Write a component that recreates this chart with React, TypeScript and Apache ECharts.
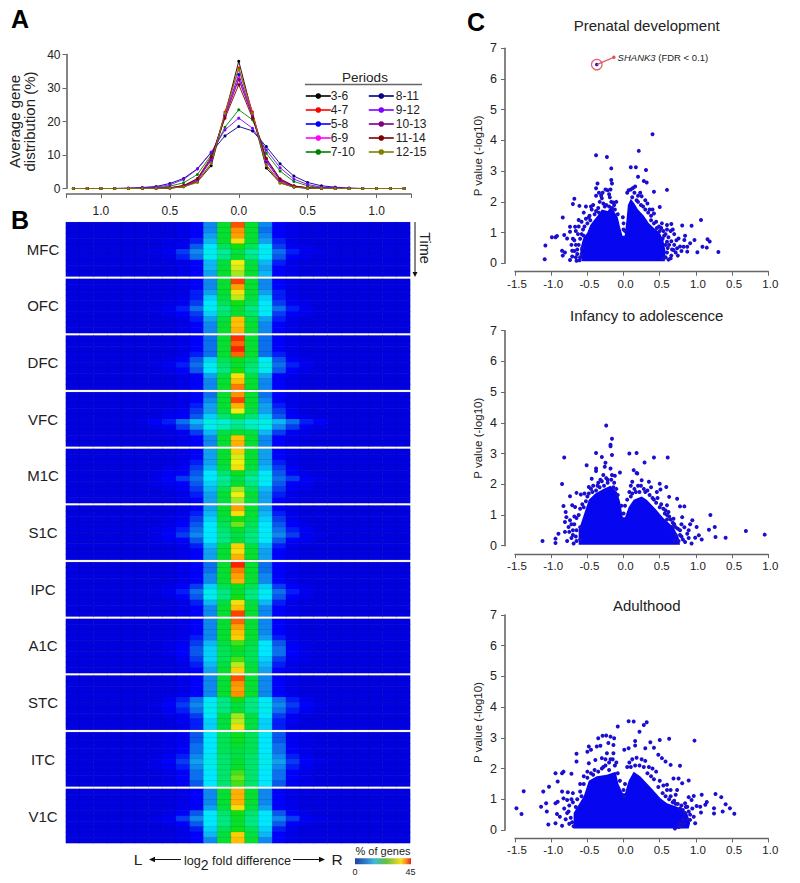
import React, { useEffect, useRef } from "react";
import * as echarts from "echarts";

const FONT = "Liberation Sans, Arial, sans-serif";
const INK = "#222222";
const AXIS = "#666666";

// Panel A
const foldBins = ["-1.2","-1.1","-1.0","-0.9","-0.8","-0.7","-0.6","-0.5","-0.4","-0.3","-0.2","-0.1","0.0","0.1","0.2","0.3","0.4","0.5","0.6","0.7","0.8","0.9","1.0","1.1","1.2"];
const foldValues = [-1.2,-1.1,-1.0,-0.9,-0.8,-0.7,-0.6,-0.5,-0.4,-0.3,-0.2,-0.1,0,0.1,0.2,0.3,0.4,0.5,0.6,0.7,0.8,0.9,1.0,1.1,1.2];
const periods = ["3-6","4-7","5-8","6-9","7-10","8-11","9-12","10-13","11-14","12-15"];
const periodColors = ["#000000","#ff0000","#0000ff","#ff00ff","#008000","#000080","#8000ff","#800080","#800000","#808000"];
const p3to6 =   [0,0,0,0,0,0,0.05,0.1,0.5,2,6.8,22,38,22,6.1,1.7,0.4,0.1,0.05,0,0,0,0,0,0];
const p4to7 =   [0,0,0,0,0,0,0.05,0.1,0.6,2.2,7.5,22.8,36,22.8,7,2,0.5,0.1,0.05,0,0,0,0,0,0];
const p5to8 =   [0,0,0,0,0,0,0.05,0.15,0.7,2.5,8.5,22,34,22,8,2.4,0.6,0.15,0.05,0,0,0,0,0,0];
const p6to9 =   [0,0,0,0,0,0,0.05,0.2,0.8,2.7,8.8,22,33,22,8.5,2.6,0.7,0.2,0.05,0,0,0,0,0,0];
const p7to10 =  [0,0,0,0,0,0.1,0.2,0.7,1.7,4.2,10,18.3,23.5,20.5,10.5,5.2,2.1,0.8,0.2,0.1,0,0,0,0,0];
const p8to11 =  [0,0,0,0,0.1,0.3,0.6,1.5,3,5.9,10.8,15.7,18.5,17.2,12.5,7.4,3.7,1.8,0.8,0.4,0.1,0,0,0,0];
const p9to12 =  [0,0,0,0,0.1,0.2,0.4,1.1,2.7,5.8,10.8,17.5,21,18,11.5,6.2,2.8,1.2,0.4,0.2,0.1,0,0,0,0];
const p10to13 = [0,0,0,0,0,0,0.05,0.2,0.8,2.8,9,21.5,32.5,21.5,8.8,2.7,0.7,0.2,0.05,0,0,0,0,0,0];
const p11to14 = [0,0,0,0,0,0,0.05,0.2,0.9,3,9.5,21,31,21,9,2.9,0.8,0.2,0.05,0,0,0,0,0,0];
const p12to15 = [0,0,0,0,0,0,0.05,0.1,0.5,1.8,7.5,22.5,35.5,22.5,6.8,1.6,0.4,0.1,0.05,0,0,0,0,0,0];
const periodSeries = [p3to6,p4to7,p5to8,p6to9,p7to10,p8to11,p9to12,p10to13,p11to14,p12to15];

// Panel B: rows are periods, columns are fold bins -0.7 .. 0.7; the outer bins read as 0
const tailZeros = [0,0,0,0,0];
const MFC = [
[0,0,0,1,3,8,22,39,22,8,3,1,0,0,0],[0,0,0,1,3,8,22,36,22,7,3,1,0,0,0],[0,0,0,1,3,9,22,35,22,8,3,1,0,0,0],[0,0,1,1,4,10,22,31,22,9,4,1,0,0,0],[0,0,1,2,6,12,20,24,20,12,5,2,1,0,0],
[0,1,2,5,8,13,17,21,17,13,7,4,2,1,0],[0,0,1,4,7,13,18,22,18,12,6,3,1,0,0],[0,0,0,1,3,10,21,30,21,10,4,1,0,0,0],[0,0,0,1,3,10,22,29,22,9,3,1,0,0,0],[0,0,0,1,3,9,22,27,22,10,3,1,0,0,0]];
const OFC = [
[0,0,0,1,3,8,22,40,22,8,3,1,0,0,0],[0,0,0,1,3,8,22,35,22,8,3,1,0,0,0],[0,0,0,1,4,9,22,31,22,9,4,1,0,0,0],[0,0,0,1,4,11,21,28,21,11,4,1,0,0,0],[0,0,1,2,5,12,20,24,20,12,5,2,1,0,0],
[0,1,2,4,7,13,18,22,18,13,7,4,2,0,0],[0,0,1,3,5,11,19,22,19,12,5,3,1,0,0],[0,0,0,1,4,9,21,33,21,9,4,1,0,0,0],[0,0,0,1,3,8,22,33,22,8,3,1,0,0,0],[0,0,0,1,3,8,22,34,22,8,3,1,0,0,0]];
const DFC = [
[0,0,0,1,3,7,22,41,22,7,3,1,0,0,0],[0,0,0,1,3,7,22,38,22,7,3,1,0,0,0],[0,0,0,1,3,7,22,42,22,7,3,1,0,0,0],[0,0,0,1,4,7,22,38,22,7,4,1,0,0,0],[0,0,1,3,6,11,20,23,20,12,6,3,1,0,0],
[0,1,2,4,7,13,19,22,19,14,7,4,2,0,0],[0,0,1,3,6,12,18,24,18,13,6,3,1,0,0],[0,0,0,1,3,9,21,31,21,9,3,1,0,0,0],[0,0,0,1,3,8,22,33,22,8,3,1,0,0,0],[0,0,0,1,3,8,22,37,22,8,3,1,0,0,0]];
const VFC = [
[0,0,0,1,3,7,22,36,22,7,3,1,0,0,0],[0,0,0,1,3,8,22,40,22,8,3,1,0,0,0],[0,0,0,1,4,9,22,34,22,9,4,1,0,0,0],[0,0,1,2,5,9,21,30,21,9,5,2,0,0,0],[0,0,2,3,6,11,19,22,19,11,6,3,1,0,0],
[1,3,4,7,10,14,15,17,15,14,10,7,4,3,0],[0,1,2,5,8,13,16,18,16,13,8,5,2,1,0],[0,0,1,2,5,10,21,22,21,10,5,2,1,0,0],[0,0,0,1,3,8,22,33,22,8,3,1,0,0,0],[0,0,0,1,3,8,22,34,22,8,3,1,0,0,0]];
const M1C = [
[0,0,0,1,3,9,22,32,22,9,3,1,0,0,0],[0,0,0,1,3,9,22,29,22,9,3,1,0,0,0],[0,0,0,1,4,9,22,30,22,9,4,1,0,0,0],[0,0,1,2,5,10,21,31,21,10,5,2,0,0,0],[0,1,2,3,6,12,19,23,19,12,6,3,1,0,0],
[0,1,3,5,7,12,17,21,17,13,7,5,2,1,0],[0,1,2,3,6,11,18,22,18,12,6,3,2,0,0],[0,0,1,2,5,10,20,27,20,10,5,2,1,0,0],[0,0,0,1,4,9,22,30,22,9,4,1,0,0,0],[0,0,0,1,3,9,21,27,21,9,3,1,0,0,0]];
const S1C = [
[0,0,0,1,3,9,22,35,22,9,3,1,0,0,0],[0,0,0,1,4,10,22,31,22,10,4,1,0,0,0],[0,0,1,2,5,11,21,24,21,11,5,2,0,0,0],[0,0,1,3,6,12,20,26,20,12,6,3,1,0,0],[0,1,2,4,7,12,19,22,19,12,7,4,2,0,0],
[0,1,3,5,8,12,18,21,18,13,8,5,2,1,0],[0,1,2,3,6,12,18,21,18,12,6,3,2,0,0],[0,0,0,1,4,10,21,32,21,10,4,1,0,0,0],[0,0,0,1,3,9,22,31,22,9,3,1,0,0,0],[0,0,0,1,3,9,22,34,22,9,3,1,0,0,0]];
const IPC = [
[0,0,0,1,3,7,22,42,22,7,3,1,0,0,0],[0,0,0,1,3,7,22,37,22,7,3,1,0,0,0],[0,0,0,1,3,8,22,35,22,8,3,1,0,0,0],[0,0,0,1,3,8,22,34,22,8,3,1,0,0,0],[0,0,1,3,5,11,20,23,20,11,5,3,1,0,0],
[0,1,2,4,7,13,18,22,18,13,7,4,2,0,0],[0,0,1,3,6,13,18,24,18,12,6,3,1,0,0],[0,0,0,1,4,10,21,31,21,10,4,1,0,0,0],[0,0,0,1,3,8,22,33,22,8,3,1,0,0,0],[0,0,0,1,3,8,22,40,22,8,3,1,0,0,0]];
const A1C = [
[0,0,0,1,3,8,22,38,22,8,3,1,0,0,0],[0,0,0,1,3,8,22,35,22,8,3,1,0,0,0],[0,0,0,1,3,8,22,33,22,8,3,1,0,0,0],[0,0,0,1,4,8,22,32,22,9,4,1,0,0,0],[0,0,1,2,5,10,21,25,21,12,6,2,1,0,0],
[0,0,1,3,6,11,20,23,20,12,7,3,1,0,0],[0,0,1,3,6,11,20,22,20,12,7,3,1,0,0],[0,0,0,2,5,11,20,25,20,11,5,2,1,0,0],[0,0,0,1,4,10,21,28,21,10,4,1,0,0,0],[0,0,0,1,3,9,22,32,22,9,3,1,0,0,0]];
const STC = [
[0,0,0,1,3,8,22,39,22,8,3,1,0,0,0],[0,0,0,1,3,8,22,36,22,8,3,1,0,0,0],[0,0,0,1,3,8,22,35,22,8,3,1,0,0,0],[0,0,0,1,3,8,22,36,22,8,3,1,0,0,0],[0,0,2,4,7,12,18,24,18,12,7,4,2,0,0],
[0,1,3,5,8,13,18,21,18,13,8,5,3,1,0],[0,0,2,4,7,13,18,22,18,13,7,4,2,0,0],[0,0,1,2,5,12,21,27,21,12,5,2,1,0,0],[0,0,0,2,4,11,21,28,21,11,4,2,0,0,0],[0,0,0,1,4,11,21,31,21,11,4,1,0,0,0]];
const ITC = [
[0,0,1,2,6,12,20,23,20,12,6,2,1,0,0],[0,0,1,2,6,12,20,23,20,12,6,2,1,0,0],[0,0,1,2,7,12,20,22,20,12,7,2,1,0,0],[0,0,1,3,7,12,20,21,20,12,7,3,1,0,0],[0,1,2,4,8,13,19,21,19,13,8,4,2,0,0],
[0,1,3,5,9,13,19,22,19,13,9,5,3,1,0],[0,1,2,4,8,13,19,22,19,13,8,4,2,0,0],[0,0,1,3,7,12,19,25,19,12,7,3,1,0,0],[0,0,1,3,7,12,19,26,19,12,7,3,1,0,0],[0,0,1,2,6,12,19,25,19,12,6,2,1,0,0]];
const V1C = [
[0,0,0,1,3,8,22,34,22,8,3,1,0,0,0],[0,0,0,1,3,8,22,34,22,8,3,1,0,0,0],[0,0,0,1,3,8,22,34,22,8,3,1,0,0,0],[0,0,0,1,3,9,21,31,21,9,3,1,0,0,0],[0,0,1,3,6,12,19,24,19,12,6,3,1,0,0],
[0,1,2,5,8,12,18,23,18,12,8,5,2,1,0],[0,0,1,3,6,12,18,22,18,12,6,3,1,0,0],[0,0,0,1,4,11,20,24,20,11,4,1,0,0,0],[0,0,0,1,3,10,21,32,21,10,3,1,0,0,0],[0,0,0,1,3,8,22,33,22,8,3,1,0,0,0]];
const regionNames = ["MFC","OFC","DFC","VFC","M1C","S1C","IPC","A1C","STC","ITC","V1C"];
const regionGrids = [MFC,OFC,DFC,VFC,M1C,S1C,IPC,A1C,STC,ITC,V1C];
const heatColors = ["#0000e0","#0000ff","#0858f0","#10a0f0","#00e8ff","#00f0d0","#00e880","#00e040","#10e010","#a0e820","#f0f010","#ffc000","#ff9000","#ff5000","#ff2000","#e00000"];

// Panel C
const volcanoTitles = ["Prenatal development","Infancy to adolescence","Adulthood"];
const volcanoTickLabels = ["-1.5","-1.0","-0.5","0.0","0.5","1.0","0.5","1.0"];
const prenatalCore = [[-0.58,0.07],[-0.6,0.45],[-0.56,0.8],[-0.5,1.0],[-0.46,1.25],[-0.41,1.4],[-0.36,1.55],[-0.3,1.75],[-0.22,1.7],[-0.17,1.85],[-0.12,1.65],[-0.08,1.5],[-0.05,1.2],[-0.015,0.9],[0.015,0.9],[0.04,1.4],[0.06,1.9],[0.1,2.1],[0.15,1.95],[0.2,1.75],[0.28,1.55],[0.35,1.3],[0.42,1.15],[0.5,1.0],[0.55,0.75],[0.58,0.4],[0.57,0.07]];
const prenatalPoints = [[0.40,4.2],[0.21,3.66],[-0.38,3.52],[-0.23,3.46],[-0.17,3.09],[0.10,3.13],[0.17,3.13],[0.31,3.04],[0.2,2.82],[-0.17,2.71],[-0.16,2.6],[-0.36,2.6],[0.28,2.68],[0.32,2.63],[-0.38,2.44],[0.6,2.39],[0.42,2.33],[-0.68,2.1],[-0.7,1.93],[-0.61,1.87],[-0.84,1.49],[1.07,1.41],[0.94,1.22],[0.81,1.23],[0.66,1.28],[-0.62,1.41],[-0.67,1.19],[-0.74,1.19],[-0.74,1.03],[-0.82,0.92],[-0.78,0.81],[-0.99,0.85],[-0.94,0.85],[-0.92,0.89],[-1.08,0.58],[-1.09,0.13],[-0.85,0.41],[-0.84,0.25],[-0.81,0.35],[-0.71,0.41],[-0.71,0.22],[-0.65,0.08],[-0.74,0.11],[0.98,0.76],[0.84,0.76],[0.76,0.81],[1.09,0.54],[1.16,0.78],[1.19,0.71],[1.15,0.51],[1.31,0.37],[1.02,0.36],[0.88,0.38],[0.83,0.54],[0.88,0.54],[0.74,0.49],[0.69,0.43],[0.75,0.25],[0.65,0.16],
[-0.45,1.85],[-0.44,1.75],[-0.42,1.9],[-0.38,2.2],[-0.33,2.0],[-0.31,2.2],[-0.3,2.12],[-0.25,2.4],[-0.22,2.38],[-0.2,2.25],[-0.19,2.15],[-0.17,2.0],[-0.14,1.98],[-0.13,1.9],[-0.1,2.0],[-0.12,1.75],[-0.08,1.6],[-0.28,1.95],[-0.26,1.85],[-0.35,1.8],[-0.4,1.6],[-0.48,1.5],[-0.5,1.3],[-0.54,1.2],[-0.56,1.1],[-0.58,0.95],[-0.6,0.8],[-0.62,0.6],[-0.64,0.45],[-0.58,0.3],[-0.6,0.2],[-0.57,0.5],[0.05,2.3],[0.07,2.38],[0.1,2.4],[0.13,2.45],[0.16,2.5],[0.15,2.3],[0.2,2.2],[0.23,2.3],[0.25,2.18],[0.3,2.05],[0.33,1.95],[0.18,2.05],[0.12,2.15],[0.27,1.85],[0.36,1.75],[0.4,1.75],[0.42,1.62],[0.38,1.55],[0.5,1.83],[0.45,1.35],[0.52,1.15],[0.55,1.05],[0.6,1.1],[0.58,0.95],[0.62,0.85],[0.6,0.7],[0.65,1.05],[0.7,0.95],[0.63,0.6],[0.67,0.45],[0.6,0.35],[0.58,0.2],[0.55,0.15],[0.56,0.9],[0.49,1.2],[0.02,1.05],[0,1.1],[0,1.3],[-0.01,1.5],
[-0.55,1.65],[-0.52,1.85],[-0.47,1.55],[-0.46,1.4],[-0.52,1.45],[-0.58,1.35],[-0.62,1.2],[-0.66,1.05],[-0.63,0.95],[-0.68,0.75],[-0.72,0.6],[-0.66,0.6],[-0.7,0.8],[-0.64,0.3],[-0.66,0.2],[-0.68,0.4],[-0.61,0.1],[-0.55,0.9],[-0.38,1.7],[-0.34,1.65],[-0.24,1.9],[-0.2,1.85],[-0.16,1.8],[-0.34,2.3],[-0.29,2.3],[-0.18,2.4],[0.2,2.0],[0.24,1.9],[0.3,1.75],[0.34,1.65],[0.38,1.4],[0.42,1.3],[0.46,1.15],[0.5,1.05],[0.54,0.8],[0.58,0.6],[0.61,0.5],[0.66,0.72],[0.7,0.6],[0.72,0.35],[0.66,0.25],[0.62,0.12],[0.6,1.25],[0.53,1.3],[0.68,1.1],[0.73,0.75],[0.78,0.55],[0.8,0.4],[0.85,0.9],[0.92,0.65]];
const shank3Point = [[-0.37,6.47]];
const shank3Leader = [[-0.37,6.47],[-0.134,6.71]];
const infancyCore = [[-0.62,0.03],[-0.62,0.5],[-0.55,1.0],[-0.48,1.5],[-0.39,1.7],[-0.28,1.85],[-0.18,1.95],[-0.09,1.75],[-0.05,1.45],[-0.01,0.93],[0.02,0.93],[0.07,1.25],[0.14,1.5],[0.25,1.6],[0.32,1.5],[0.44,1.2],[0.55,0.9],[0.69,0.6],[0.76,0.28],[0.78,0.03]];
const infancyPoints = [[-0.24,3.91],[-0.16,3.48],[-0.18,3.29],[-0.18,3.24],[-0.16,2.95],[-0.38,3.02],[-0.3,2.89],[-0.82,2.87],[0.08,3.0],[0.18,3.02],[0.42,2.87],[0.61,2.87],[0.29,2.71],[-0.51,2.62],[-0.85,2.01],[-0.25,2.7],[-0.26,2.57],[-0.18,2.51],[-0.38,2.51],[-0.38,2.43],[-0.05,2.38],[0.14,2.46],[0.18,2.37],[0.19,2.35],[-0.28,2.3],[-0.16,2.3],[-0.12,2.28],[-0.48,1.91],[-0.44,2.18],[-0.65,1.72],[-0.59,1.67],[-0.54,1.7],[-0.74,1.61],[-0.83,1.29],[-0.71,1.32],[-0.67,1.26],[-0.8,1.1],[-0.79,0.93],[-0.74,0.83],[-0.81,0.77],[-0.76,0.61],[-0.81,0.45],[-0.9,0.39],[-0.94,0.23],[-1.12,0.15],[-0.94,0.09],[-0.78,0.15],[-0.69,0.07],[0.12,2.08],[0.25,2.13],[0.35,2.08],[0.5,2.02],[0.59,1.91],[0.51,1.83],[0.46,1.75],[0.74,1.53],[0.63,1.59],[0.6,1.32],[0.78,1.28],[0.84,1.28],[1.2,1.0],[0.81,0.93],[0.95,0.83],[0.92,0.7],[1.01,0.61],[1.26,0.61],[1.18,0.52],[1.69,0.48],[1.95,0.36],[1.27,0.28],[1.41,0.26],[1.08,0.2],[1.04,0.34],[0.99,0.26],[0.88,0.39],[0.78,0.5],[0.69,0.88],[0.67,0.61],[0.85,0.12],[0.94,0.07],
[-0.5,1.6],[-0.45,1.85],[-0.42,1.95],[-0.35,2.05],[-0.3,2.1],[-0.22,2.15],[-0.13,2.05],[-0.1,1.85],[-0.08,1.65],[0,1.05],[-0.03,1.3],[0.02,1.3],[0.08,1.75],[0.1,1.95],[0.15,1.85],[0.2,1.95],[0.28,1.85],[0.33,1.8],[0.4,1.55],[0.45,1.4],[0.5,1.25],[0.55,1.2],[0.6,1.0],[0.65,0.85],[0.7,0.7],[0.75,0.55],[0.72,0.35],[0.8,0.3],[0.7,0.15],[0.62,1.1],[-0.65,0.9],[-0.68,0.7],[-0.7,0.5],[-0.66,0.3],[-0.72,0.25],[-0.6,1.2],[-0.57,1.35],
[-0.6,0.6],[-0.65,0.5],[-0.68,0.95],[-0.72,0.7],[-0.75,0.45],[-0.7,0.35],[-0.62,1.0],[-0.55,1.25],[-0.52,1.45],[-0.48,1.7],[-0.43,1.75],[-0.38,1.8],[-0.36,1.95],[-0.33,1.9],[-0.27,1.95],[-0.22,2.05],[-0.17,2.15],[-0.14,1.9],[-0.24,2.2],[-0.32,2.15],[-0.6,0.2],[-0.65,0.15],[0.1,1.6],[0.12,1.7],[0.17,1.75],[0.22,1.75],[0.24,1.95],[0.3,1.75],[0.36,1.65],[0.42,1.5],[0.47,1.55],[0.52,1.35],[0.57,1.05],[0.6,0.85],[0.63,0.95],[0.68,0.75],[0.72,0.6],[0.78,0.35],[0.76,0.15],[0.8,0.7],[0.84,0.6],[0.9,0.5],[0.82,0.2],[0.9,0.25],[0.58,1.15],[0.38,1.9],[0.05,1.5]];
const adultCore = [[-0.69,0.05],[-0.69,0.55],[-0.55,1.1],[-0.48,1.6],[-0.37,1.75],[-0.23,1.8],[-0.11,1.9],[-0.07,1.5],[-0.01,1.2],[0.02,1.2],[0.07,1.6],[0.14,1.9],[0.23,1.75],[0.37,1.4],[0.51,1.03],[0.6,0.87],[0.74,0.76],[0.88,0.55],[0.92,0.22],[0.9,0.05]];
const adultPoints = [[-1.48,0.71],[-1.41,0.52],[-1.38,1.26],[-1.11,1.25],[-1.03,1.41],[-1.14,0.76],[-1.07,0.87],[-1.06,0.6],[-1.04,0.18],[-0.94,0.22],[-0.92,0.52],[-0.88,0.43],[-0.85,0.14],[-0.94,1.85],[-0.91,1.58],[-0.85,1.85],[-0.83,1.9],[-0.72,1.83],[-0.94,0.87],[-0.91,0.92],[-0.85,1.25],[-0.77,1.23],[-0.83,1.03],[-0.78,0.98],[-0.65,2.48],[-0.65,2.23],[-0.48,2.72],[-0.45,2.61],[-0.5,2.55],[-0.37,2.72],[-0.32,2.74],[-0.35,2.99],[-0.29,3.07],[-0.24,3.08],[-0.18,3.04],[-0.13,2.99],[-0.08,3.37],[0.07,3.54],[0.14,3.53],[0.28,3.42],[0.32,3.51],[0.22,3.2],[0.5,2.93],[0.63,2.97],[0.98,2.91],[0.37,2.86],[0.16,2.9],[0.01,2.61],[0.07,2.66],[0.3,2.66],[0.42,2.68],[0.16,2.75],[-0.21,2.83],[-0.14,2.77],[-0.23,2.5],[-0.14,2.5],[-0.39,2.28],[-0.48,2.17],[-0.3,2.34],[0.48,2.45],[0.53,2.34],[0.58,2.23],[0.65,2.12],[0.78,2.09],[0.9,1.61],[0.69,1.68],[0.76,1.68],[0.81,1.52],[0.6,1.47],[0.74,1.3],[0.9,1.07],[0.97,1.11],[1.08,1.15],[1.27,1.17],[1.35,1.07],[1.41,0.84],[1.47,0.71],[1.53,0.53],[1.37,0.6],[1.25,0.71],[1.25,0.54],[1.15,0.91],[1.13,0.82],[1.06,0.76],[1.01,0.78],[1.07,0.57],[0.99,0.22],[0.92,0.33],[0.88,0.76],[0.71,0.05],[0.94,0.98],[0.97,0.43],[0.85,0.87],
[-0.6,1.5],[-0.55,1.75],[-0.5,1.9],[-0.45,1.85],[-0.4,1.95],[-0.3,2.0],[-0.25,2.1],[-0.2,2.2],[-0.15,2.3],[-0.12,2.1],[-0.08,1.85],[-0.05,1.6],[0,1.3],[0.01,1.1],[0.02,1.5],[0.05,2.05],[0.08,2.2],[0.12,2.3],[0.18,2.35],[0.25,2.3],[0.3,2.25],[0.35,2.05],[0.4,2],[0.45,1.9],[0.5,1.6],[0.55,1.45],[0.6,1.3],[0.65,1.1],[0.7,0.95],[0.75,0.85],[0.8,0.8],[0.85,0.55],[0.82,0.35],[0.78,0.2],[-0.7,1.2],[-0.72,1.0],[-0.75,0.8],[-0.76,0.6],[-0.73,0.4],[-0.71,0.25],[-0.69,0.12],
[-0.78,0.55],[-0.82,0.7],[-0.8,0.35],[-0.75,0.2],[-0.66,0.75],[-0.64,1.0],[-0.7,0.9],[-0.6,1.25],[-0.58,1.1],[-0.55,1.5],[-0.5,1.7],[-0.42,1.8],[-0.35,1.9],[-0.28,2.05],[-0.2,1.95],[-0.18,2.3],[-0.1,2.2],[-0.25,2.3],[0.1,2.05],[0.16,2.1],[0.22,2.1],[0.28,2.05],[0.33,1.85],[0.38,1.75],[0.42,1.65],[0.48,1.4],[0.54,1.2],[0.58,1.1],[0.63,1.0],[0.68,0.9],[0.72,0.85],[0.78,0.7],[0.82,0.65],[0.86,0.75],[0.9,0.6],[0.88,0.35],[0.84,0.2],[0.8,0.12],[0.76,0.1],[0.92,0.5],[0.95,0.7],[0.65,1.3],[0.72,1.15]];
const volcanoCores = [prenatalCore, infancyCore, adultCore];
const volcanoPoints = [prenatalPoints, infancyPoints, adultPoints];

function buildOption() {
  const grid: any[] = [{ left: 66.5, width: 344.5, top: 54.5, height: 134 }];
  const xAxis: any[] = [{
    type: "value", gridIndex: 0, min: -1.25, max: 1.25, offset: 5.5,
    axisLine: { show: true, onZero: false, lineStyle: { color: AXIS, width: 1.6 } },
    axisTick: { show: true, length: 4, lineStyle: { color: AXIS, width: 1 }, customValues: [-1.25,-1,-0.5,0,0.5,1,1.25] },
    axisLabel: { color: INK, fontSize: 12, fontFamily: FONT, margin: 10.5, customValues: [-1,-0.5,0,0.5,1], formatter: (v: number) => Math.abs(v).toFixed(1) },
    splitLine: { show: false },
  }];
  const yAxis: any[] = [{
    type: "value", gridIndex: 0, min: 0, max: 40, interval: 10,
    axisLine: { show: true, onZero: false, lineStyle: { color: AXIS, width: 1.6 } },
    axisTick: { show: true, length: 4, lineStyle: { color: AXIS, width: 1 } },
    axisLabel: { color: INK, fontSize: 12, fontFamily: FONT, margin: 6 },
    splitLine: { show: false },
    name: "Average gene\ndistribution (%)", nameLocation: "middle", nameGap: 30,
    nameTextStyle: { color: INK, fontSize: 15, fontFamily: FONT, lineHeight: 15 },
  }];
  const series: any[] = periods.map((name, i) => ({
    name, type: "line", xAxisIndex: 0, yAxisIndex: 0,
    data: periodSeries[i].map((v, j) => [foldValues[j], v]),
    symbol: "circle", symbolSize: 3, showSymbol: true,
    lineStyle: { color: periodColors[i], width: 0.9 }, itemStyle: { color: periodColors[i] },
  }));

  regionNames.forEach((name, r) => {
    const gi = grid.length;
    grid.push({ left: 66, width: 344, top: 222.3 + 56.67 * r, height: 54 });
    xAxis.push({ type: "category", gridIndex: gi, data: foldBins, show: false });
    yAxis.push({
      type: "category", gridIndex: gi, data: periods, inverse: true,
      axisLine: { show: false }, axisTick: { show: false }, axisLabel: { show: false },
      name, nameLocation: "middle", nameRotate: 0, nameGap: 23,
      nameTextStyle: { color: INK, fontSize: 15, fontFamily: FONT, align: "center", verticalAlign: "middle" },
    });
    const cells: number[][] = [];
    regionGrids[r].forEach((row, y) => {
      [...tailZeros, ...row, ...tailZeros].forEach((v, x) => cells.push([x, y, v]));
    });
    series.push({
      type: "heatmap", xAxisIndex: gi, yAxisIndex: gi, data: cells,
      itemStyle: { borderColor: "rgba(0,0,40,0.18)", borderWidth: 0.5 },
    });
  });
  const heatIndexes = regionNames.map((_, r) => periods.length + r);

  const volcanoTops = [48.3, 330.7, 615];
  volcanoTitles.forEach((_, v) => {
    const gi = grid.length;
    grid.push({ left: 515, width: 253.3, top: volcanoTops[v], height: 215 });
    xAxis.push({
      type: "value", gridIndex: gi, min: -1.5, max: 2, interval: 0.5, offset: 8.4,
      axisLine: { show: true, onZero: false, lineStyle: { color: AXIS, width: 1.3 } },
      axisTick: { show: true, length: 4, lineStyle: { color: AXIS, width: 1 } },
      axisLabel: { color: INK, fontSize: 11.5, fontFamily: FONT, margin: 6, padding: [0, 0, 0, 4], showMinLabel: true, showMaxLabel: true, formatter: (_v: number, idx: number) => volcanoTickLabels[idx] },
      splitLine: { show: false },
    });
    yAxis.push({
      type: "value", gridIndex: gi, min: 0, max: 7, interval: 1, offset: 10,
      axisLine: { show: true, onZero: false, lineStyle: { color: AXIS, width: 1.6 } },
      axisTick: { show: true, length: 4, lineStyle: { color: AXIS, width: 1 } },
      axisLabel: { color: INK, fontSize: 12.5, fontFamily: FONT, margin: 8 },
      splitLine: { show: false },
      name: "P value (-log10)", nameLocation: "middle", nameGap: 21,
      nameTextStyle: { color: INK, fontSize: 11.5, fontFamily: FONT },
    });
    const core = volcanoCores[v];
    series.push({
      type: "custom", xAxisIndex: gi, yAxisIndex: gi, data: core, coordinateSystem: "cartesian2d",
      encode: { x: 0, y: 1 },
      renderItem: (params: any, api: any) => {
        if (params.dataIndex !== 0) return null;
        return { type: "polygon", shape: { points: core.map((p) => api.coord(p)) }, style: { fill: "#0606f0" } };
      },
    });
    series.push({
      type: "scatter", xAxisIndex: gi, yAxisIndex: gi, data: volcanoPoints[v],
      symbolSize: 4, itemStyle: { color: "#1a0ed0", opacity: 1 },
    });
    if (v === 0) {
      series.push({
        type: "line", xAxisIndex: gi, yAxisIndex: gi, data: shank3Leader, symbol: "none",
        lineStyle: { color: "#e0505a", width: 1.2 },
      });
      series.push({
        type: "scatter", xAxisIndex: gi, yAxisIndex: gi, data: [shank3Leader[1]], symbolSize: 3.5,
        itemStyle: { color: "#e0505a", opacity: 1 },
        label: {
          show: true, position: "right", distance: 2, fontFamily: FONT, fontSize: 9.5, color: INK,
          formatter: "{i|SHANK3} (FDR < 0.1)", rich: { i: { fontStyle: "italic", fontSize: 9.5, fontFamily: FONT, color: INK } },
        },
      });
      series.push({
        type: "scatter", xAxisIndex: gi, yAxisIndex: gi, data: shank3Point, symbolSize: 10.5,
        itemStyle: { color: "rgba(255,255,255,0)", borderColor: "#e0606a", borderWidth: 1.2, opacity: 1 },
      });
      series.push({
        type: "scatter", xAxisIndex: gi, yAxisIndex: gi, data: shank3Point, symbolSize: 3.5,
        itemStyle: { color: "#1a0ed0", opacity: 1 },
      });
    }
  });

  const letter = (text: string, x: number, y: number) => ({
    type: "text", x, y, style: { text, fill: "#000", font: `bold 25px ${FONT}` },
  });
  const arrowHead = (pts: number[][]) => ({ type: "polygon", shape: { points: pts }, style: { fill: "#111" } });
  const graphic: any[] = [
    letter("A", 11, 6), letter("B", 11, 207), letter("C", 467, 9),
    { type: "text", x: 365, y: 70, style: { text: "Periods", fill: INK, font: `13.5px ${FONT}`, textAlign: "center" } },
    { type: "line", shape: { x1: 305, y1: 84.5, x2: 422, y2: 84.5 }, style: { stroke: AXIS, lineWidth: 1.4 } },
    { type: "line", shape: { x1: 415, y1: 222, x2: 415, y2: 273 }, style: { stroke: "#111", lineWidth: 1 } },
    arrowHead([[412.5, 272], [417.5, 272], [415, 277]]),
    { type: "text", x: 425, y: 248, rotation: -Math.PI / 2, style: { text: "Time", fill: INK, font: `14.5px ${FONT}`, textAlign: "center", textVerticalAlign: "middle" }, originX: 0, originY: 0 },
    { type: "text", x: 138, y: 859.5, style: { text: "L", fill: INK, font: `15.5px ${FONT}`, textAlign: "center", textVerticalAlign: "middle" } },
    { type: "line", shape: { x1: 152, y1: 859.5, x2: 181, y2: 859.5 }, style: { stroke: "#111", lineWidth: 1 } },
    arrowHead([[149, 859.5], [155, 856.7], [155, 862.3]]),
    {
      type: "text", x: 184, y: 850,
      style: {
        text: "{a|log}{b|2}{a| fold difference}", fill: INK, font: `13px ${FONT}`,
        rich: {
          a: { fontSize: 12.6, fontFamily: FONT, fill: INK, color: INK },
          b: { fontSize: 14, fontFamily: FONT, fill: INK, color: INK, padding: [8, 0, 0, 0] },
        },
      },
    },
    { type: "line", shape: { x1: 293, y1: 859.5, x2: 322, y2: 859.5 }, style: { stroke: "#111", lineWidth: 1 } },
    arrowHead([[325, 859.5], [319, 856.7], [319, 862.3]]),
    { type: "text", x: 337, y: 859.5, style: { text: "R", fill: INK, font: `15.5px ${FONT}`, textAlign: "center", textVerticalAlign: "middle" } },
    { type: "text", x: 383, y: 851, style: { text: "% of genes", fill: INK, font: `11px ${FONT}`, textAlign: "center", textVerticalAlign: "middle" } },
    {
      type: "rect", shape: { x: 355, y: 858.3, width: 56, height: 6 },
      style: {
        fill: new echarts.graphic.LinearGradient(0, 0, 1, 0, [
          { offset: 0, color: "#22409c" }, { offset: 0.2, color: "#2c80d0" }, { offset: 0.35, color: "#40b8d8" },
          { offset: 0.55, color: "#60c040" }, { offset: 0.72, color: "#c0d030" }, { offset: 0.82, color: "#f8e020" },
          { offset: 0.92, color: "#f88020" }, { offset: 1, color: "#e02020" },
        ]),
      },
    },
    { type: "text", x: 355, y: 871.5, style: { text: "0", fill: INK, font: `9px ${FONT}`, textAlign: "center", textVerticalAlign: "middle" } },
    { type: "text", x: 410.5, y: 871.5, style: { text: "45", fill: INK, font: `9px ${FONT}`, textAlign: "center", textVerticalAlign: "middle" } },
  ];

  const titleCenters = [27, 316.7, 607];
  return {
    animation: false,
    backgroundColor: "#ffffff",
    textStyle: { fontFamily: FONT },
    title: volcanoTitles.map((text, i) => ({
      text, left: 646.7, top: titleCenters[i] - 9, textAlign: "center", padding: 0,
      textStyle: { color: INK, fontSize: 15, fontWeight: "normal", fontFamily: FONT },
    })),
    legend: [
      { data: periods.slice(0, 5), left: 305, top: 90, orient: "vertical", padding: 0, itemWidth: 25, itemHeight: 7, itemGap: 2, lineStyle: { width: 1.6 }, textStyle: { color: INK, fontSize: 12, fontFamily: FONT, padding: [0, 0, 0, -5] }, selectedMode: false },
      { data: periods.slice(5), left: 368, top: 90, orient: "vertical", padding: 0, itemWidth: 25, itemHeight: 7, itemGap: 2, lineStyle: { width: 1.6 }, textStyle: { color: INK, fontSize: 12, fontFamily: FONT, padding: [0, 0, 0, -3] }, selectedMode: false },
    ],
    visualMap: { show: false, type: "continuous", min: 0, max: 45, seriesIndex: heatIndexes, inRange: { color: heatColors } },
    grid, xAxis, yAxis, series, graphic,
  };
}

export default function App() {
  const ref = useRef<HTMLDivElement>(null);
  useEffect(() => {
    document.body.style.margin = "0";
    const chart = echarts.init(ref.current as HTMLDivElement, undefined, { renderer: "svg" });
    chart.setOption(buildOption() as any);
    return () => chart.dispose();
  }, []);
  return <div ref={ref} style={{ width: 800, height: 883 }} />;
}
